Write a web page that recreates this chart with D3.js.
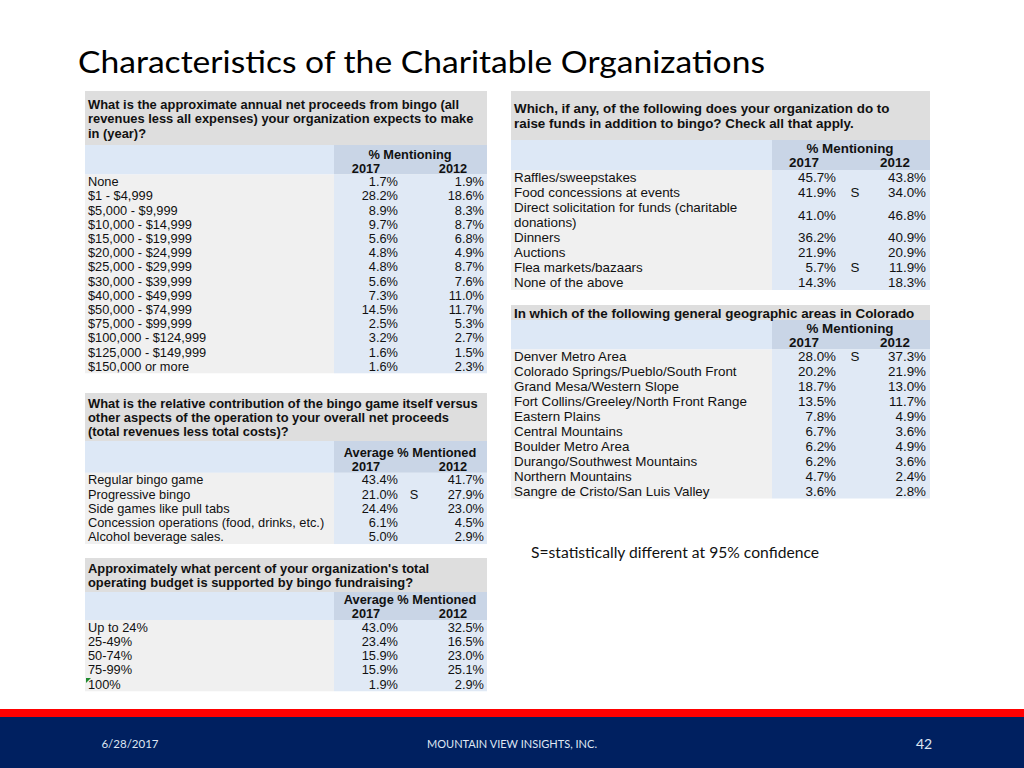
<!DOCTYPE html>
<html><head><meta charset="utf-8">
<script src="https://cdn.jsdelivr.net/npm/d3@7/dist/d3.min.js"></script>
<style>body{margin:0;background:#fff}svg{display:block}</style>
</head><body>
<svg id="c" width="1024" height="768"></svg>
<script>
// ---------- DATA ----------
const title = "Characteristics of the Charitable Organizations";
const years = ["2017", "2012"];

const q1Text = ["What is the approximate annual net proceeds from bingo (all",
  "revenues less all expenses) your organization expects to make", "in (year)?"];
const q1Head = "% Mentioning";
const q1Cats = ["None","$1 - $4,999","$5,000 - $9,999","$10,000 - $14,999","$15,000 - $19,999",
  "$20,000 - $24,999","$25,000 - $29,999","$30,000 - $39,999","$40,000 - $49,999",
  "$50,000 - $74,999","$75,000 - $99,999","$100,000 - $124,999","$125,000 - $149,999","$150,000 or more"];
const q1v2017 = [1.7,28.2,8.9,9.7,5.6,4.8,4.8,5.6,7.3,14.5,2.5,3.2,1.6,1.6];
const q1v2012 = [1.9,18.6,8.3,8.7,6.8,4.9,8.7,7.6,11.0,11.7,5.3,2.7,1.5,2.3];
const q1Sig = q1Cats.map(() => "");

const q2Text = ["What is the relative contribution of the bingo game itself versus",
  "other aspects of the operation to your overall net proceeds", "(total revenues less total costs)?"];
const q2Head = "Average % Mentioned";
const q2Cats = ["Regular bingo game","Progressive bingo","Side games like pull tabs",
  "Concession operations (food, drinks, etc.)","Alcohol beverage sales."];
const q2v2017 = [43.4,21.0,24.4,6.1,5.0];
const q2v2012 = [41.7,27.9,23.0,4.5,2.9];
const q2Sig = ["","S","","",""];

const q3Text = ["Approximately what percent of your organization's total",
  "operating budget is supported by bingo fundraising?"];
const q3Head = "Average % Mentioned";
const q3Cats = ["Up to 24%","25-49%","50-74%","75-99%","100%"];
const q3v2017 = [43.0,23.4,15.9,15.9,1.9];
const q3v2012 = [32.5,16.5,23.0,25.1,2.9];
const q3Sig = ["","","","",""];

const q4Text = ["Which, if any, of the following does your organization do to",
  "raise funds in addition to bingo? Check all that apply."];
const q4Head = "% Mentioning";
const q4Cats = [["Raffles/sweepstakes"],["Food concessions at events"],
  ["Direct solicitation for funds (charitable","donations)"],["Dinners"],["Auctions"],
  ["Flea markets/bazaars"],["None of the above"]];
const q4v2017 = [45.7,41.9,41.0,36.2,21.9,5.7,14.3];
const q4v2012 = [43.8,34.0,46.8,40.9,20.9,11.9,18.3];
const q4Sig = ["","S","","","","S",""];

const q5Text = ["In which of the following general geographic areas in Colorado"];
const q5Head = "% Mentioning";
const q5Cats = ["Denver Metro Area","Colorado Springs/Pueblo/South Front","Grand Mesa/Western Slope",
  "Fort Collins/Greeley/North Front Range","Eastern Plains","Central Mountains","Boulder Metro Area",
  "Durango/Southwest Mountains","Northern Mountains","Sangre de Cristo/San Luis Valley"];
const q5v2017 = [28.0,20.2,18.7,13.5,7.8,6.7,6.2,6.2,4.7,3.6];
const q5v2012 = [37.3,21.9,13.0,11.7,4.9,3.6,4.9,3.6,2.4,2.8];
const q5Sig = ["S","","","","","","","","",""];

const note = "S=statistically different at 95% confidence";
const footDate = "6/28/2017", footCompany = "MOUNTAIN VIEW INSIGHTS, INC.", footPage = "42";

// ---------- DRAW ----------
const svg = d3.select("#c");
const FONT = "'Liberation Sans', Arial, sans-serif";
const C = {q:"#dedede", row:"#f0f0f0", subL:"#dde8f6", subV:"#c9d5e6", val:"#e0e9f5", text:"#111"};
const fmt = v => d3.format(".1f")(v) + "%";

svg.append("text").attr("x",78).attr("y",73).text(title)
  .attr("font-family","Lato, 'Open Sans', sans-serif").attr("font-size",30)
  .attr("textLength",687).attr("lengthAdjust","spacingAndGlyphs").attr("fill","#000");

function drawTable(s) {
  const g = svg.append("g");
  const fs = s.fs;
  const units = s.cats.map(c => Array.isArray(c) ? c.length : 1);
  const cum = d3.cumsum([0, ...units]);
  const total = cum[cum.length-1];
  const y = d3.scaleLinear().domain([0,total]).range([s.rowsTop, s.rowsTop + total*s.rowH]);
  const col = d3.scaleOrdinal().domain(["2017","S","2012"]).range([s.r17, s.sX, s.r12]);
  const hcol = d3.scaleOrdinal().domain(years).range([s.h17, s.h12]);
  const bottom = y(total);
  // backgrounds
  g.append("rect").attr("x",s.x0).attr("y",s.qTop).attr("width",s.x1-s.x0).attr("height",s.subTop-s.qTop).attr("fill",C.q);
  g.append("rect").attr("x",s.x0).attr("y",s.subTop).attr("width",s.vx-s.x0).attr("height",s.rowsTop-s.subTop).attr("fill",C.subL);
  g.append("rect").attr("x",s.vx).attr("y",s.subTop).attr("width",s.x1-s.vx).attr("height",s.rowsTop-s.subTop).attr("fill",C.subV);
  g.append("rect").attr("x",s.x0).attr("y",s.rowsTop).attr("width",s.vx-s.x0).attr("height",bottom-s.rowsTop).attr("fill",C.row);
  g.append("rect").attr("x",s.vx).attr("y",s.rowsTop).attr("width",s.x1-s.vx).attr("height",bottom-s.rowsTop).attr("fill",C.val);
  // question
  g.selectAll("text.q").data(s.q).join("text").attr("class","q")
    .attr("x",s.x0+3).attr("y",(d,i)=>s.qBase + i*s.qStep).text(d=>d)
    .attr("font-family",FONT).attr("font-weight","bold").attr("font-size",s.qfs).attr("fill",C.text);
  // header
  g.append("text").attr("x",s.hc).attr("y",s.headBase).attr("text-anchor","middle").text(s.head)
    .attr("font-family",FONT).attr("font-weight","bold").attr("font-size",fs).attr("fill",C.text);
  g.selectAll("text.yr").data(years).join("text").attr("class","yr")
    .attr("x",d=>hcol(d)).attr("y",s.headBase+14).attr("text-anchor","middle").text(d=>d)
    .attr("font-family",FONT).attr("font-weight","bold").attr("font-size",fs).attr("fill",C.text);
  // rows
  const rows = s.cats.map((c,i)=>({lab:Array.isArray(c)?c:[c], u:units[i], i, v17:s.v17[i], v12:s.v12[i], sig:s.sig[i]}));
  const rg = g.selectAll("g.r").data(rows).join("g").attr("class","r");
  const mid = d => (y(cum[d.i]) + y(cum[d.i+1]))/2;
  const tx = (sel) => sel.attr("font-family",FONT).attr("font-size",fs).attr("fill",C.text);
  rg.each(function(d){
    const gg = d3.select(this);
    d.lab.forEach((t,k)=>{
      gg.append("text").attr("x",s.x0+3).attr("y", y(cum[d.i]+k) + s.rowH/2 + 4.5).text(t).call(tx);
    });
  });
  rg.append("text").attr("x",col("2017")).attr("y",d=>mid(d)+4.5).attr("text-anchor","end").text(d=>fmt(d.v17)).call(tx);
  rg.append("text").attr("x",col("2012")).attr("y",d=>mid(d)+4.5).attr("text-anchor","end").text(d=>fmt(d.v12)).call(tx);
  rg.filter(d=>d.sig).append("text").attr("x",col("S")).attr("y",d=>mid(d)+4.5).attr("text-anchor","middle").text(d=>d.sig).call(tx);
  return {g, y, cum};
}

const L = {x0:85, x1:487, vx:334, r17:398, r12:484, sX:414, h17:366, h12:453, hc:410, fs:12.8, qfs:12.9};
const R = {x0:511, x1:930, vx:772, r17:836, r12:926, sX:855, h17:804, h12:895, hc:850, fs:13.4, qfs:13.4};

drawTable({...L, q:q1Text, qTop:91, qBase:108.5, qStep:14.5, subTop:145, headBase:158.5, rowsTop:174.5, rowH:14.2,
  head:q1Head, cats:q1Cats, v17:q1v2017, v12:q1v2012, sig:q1Sig});
drawTable({...L, q:q2Text, qTop:393, qBase:407.5, qStep:14.3, subTop:441, headBase:457, rowsTop:472.8, rowH:14.25,
  head:q2Head, cats:q2Cats, v17:q2v2017, v12:q2v2012, sig:q2Sig});
const t3 = drawTable({...L, q:q3Text, qTop:558, qBase:572.5, qStep:14.5, subTop:592, headBase:604, rowsTop:620, rowH:14.25,
  head:q3Head, cats:q3Cats, v17:q3v2017, v12:q3v2012, sig:q3Sig});
// small green comment marker on the last row (spreadsheet cell indicator)
t3.g.append("path").attr("d",`M86,${t3.y(4)+1} l5,0 l-5,5 z`).attr("fill","#1e8a2e");
drawTable({...R, q:q4Text, qTop:91, qBase:112.5, qStep:15, subTop:140, headBase:153, rowsTop:170, rowH:15,
  head:q4Head, cats:q4Cats, v17:q4v2017, v12:q4v2012, sig:q4Sig});
drawTable({...R, q:q5Text, qTop:305, qBase:317.5, qStep:14, subTop:320, headBase:333, rowsTop:349.5, rowH:14.9,
  head:q5Head, cats:q5Cats, v17:q5v2017, v12:q5v2012, sig:q5Sig});

svg.append("text").attr("x",531).attr("y",558).text(note)
  .attr("font-family","Lato, 'Open Sans', sans-serif").attr("font-size",14.5).attr("fill","#111")
  .attr("textLength",288).attr("lengthAdjust","spacingAndGlyphs");

// footer
svg.append("rect").attr("x",0).attr("y",709).attr("width",1024).attr("height",8).attr("fill","#ff0000");
svg.append("rect").attr("x",0).attr("y",717).attr("width",1024).attr("height",51).attr("fill","#002060");
const ff = "Lato, 'Open Sans', sans-serif";
svg.append("text").attr("x",130).attr("y",748).attr("text-anchor","middle").text(footDate)
  .attr("font-family",ff).attr("font-size",11.5).attr("fill","#dfe6f2");
svg.append("text").attr("x",512).attr("y",748).attr("text-anchor","middle").text(footCompany)
  .attr("font-family",ff).attr("font-size",11.5).attr("fill","#dfe6f2").attr("textLength",170).attr("lengthAdjust","spacingAndGlyphs");
svg.append("text").attr("x",924).attr("y",749).attr("text-anchor","middle").text(footPage)
  .attr("font-family",ff).attr("font-size",14).attr("fill","#dfe6f2");
</script>
</body></html>
